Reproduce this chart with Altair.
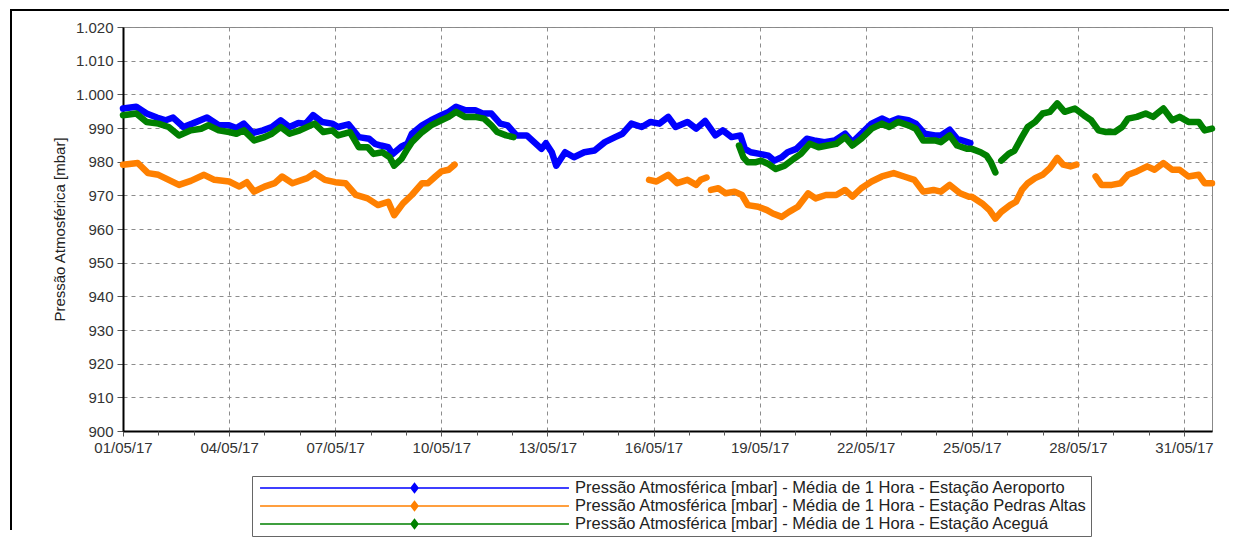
import altair as alt
import pandas as pd

START = "2017-05-01T00:00:00"

SERIES = [
    "Pressão Atmosférica [mbar] - Média de 1 Hora - Estação Aeroporto",
    "Pressão Atmosférica [mbar] - Média de 1 Hora - Estação Pedras Altas",
    "Pressão Atmosférica [mbar] - Média de 1 Hora - Estação Aceguá",
]
COLORS = ["#0000ff", "#ff8000", "#008000"]

# hours since 01/05/17 00:00 ; None marks a gap in the record
AERO_HOURS = [0, 9, 16, 23, 29, 34, 41, 47, 57, 65, 72, 77, 82, 88, 95, 101, 107, 113, 119, 124,
              129, 135, 142, 146, 153, 160, 167, 171, 175, 180, 183, 189, 193, 196, 203, 209, 216,
              221, 226, 232, 239, 244, 250, 256, 261, 267, 274, 279, 284, 287, 291, 294, 300, 306,
              313, 320, 327, 334, 339, 345, 352, 358, 364, 370, 375, 383, 389, 395, 402, 407, 413,
              419, 422, 426, 432, 438, 442, 447, 451, 457, 464, 469, 476, 483, 490, 495, 501, 508,
              515, 520, 526, 533, 538, 544, 551, 555, 561, 566, 573, 575]
AERO_VALUES = [995.8, 996.3, 994.3, 993.1, 992.3, 993.1, 990.3, 991.3, 993.1, 990.8, 990.8, 990.0,
               991.3, 988.5, 989.3, 990.3, 992.3, 990.3, 991.5, 991.3, 993.8, 991.8, 991.3, 990.3,
               991.1, 987.3, 986.8, 985.3, 984.8, 984.3, 982.3, 984.5, 985.3, 988.3, 990.8, 992.3,
               993.8, 994.8, 996.3, 995.3, 995.3, 994.3, 994.3, 991.3, 990.8, 987.8, 987.8, 985.8,
               983.8, 985.5, 982.8, 978.8, 982.8, 981.3, 982.8, 983.3, 985.8, 987.3, 988.3, 991.3,
               990.3, 991.8, 991.3, 993.3, 990.3, 991.8, 989.8, 992.1, 987.8, 989.3, 987.3, 987.8,
               983.8, 982.8, 982.3, 981.8, 980.3, 981.3, 982.8, 983.8, 986.8, 986.3, 985.8, 986.3,
               988.3, 985.8, 988.3, 991.3, 992.8, 991.8, 992.8, 992.3, 991.3, 988.3, 987.8, 987.8,
               989.5, 986.8, 985.8, 985.5]

PEDRAS_HOURS = [0, 10, 17, 24, 31, 38, 46, 55, 62, 72, 79, 84, 89, 96, 103, 108, 115, 125, 130, 137,
                144, 151, 158, 166, 173, 180, 184, 190, 196, 203, 207, 212, 216, 221, 225, 300,
                357, 362, 370, 376, 383, 389, 392, 396, 398,
                399, 404, 409, 415, 420, 424, 431, 437, 441, 447, 452, 458, 465, 470, 477, 484, 490,
                495, 501, 508, 515, 523, 530, 537, 543, 550, 555, 561, 568, 574, 576, 583, 588, 592,
                596, 602, 606, 610, 614, 619, 624, 629, 634, 638, 643, 647, 655,
                660, 664, 671, 677, 682, 688, 695, 700, 706, 712, 717, 723, 730, 734, 739]
PEDRAS_VALUES = [979.1, 979.6, 976.6, 976.1, 974.6, 973.1, 974.3, 976.1, 974.6, 974.1, 972.6, 973.9,
                 971.1, 972.6, 973.6, 975.6, 973.6, 975.1, 976.6, 974.6, 973.9, 973.6, 970.1, 969.1,
                 967.1, 968.1, 964.1, 967.6, 970.1, 973.6, 973.6, 975.6, 977.1, 977.6, 979.1, None,
                 974.6, 974.1, 976.1, 973.6, 974.6, 973.1, 974.6, 975.3, None,
                 971.6, 972.1, 970.6, 971.1, 970.1, 967.1, 966.6, 965.6, 964.6, 963.6, 965.1, 966.6,
                 970.6, 969.1, 970.1, 970.1, 971.6, 969.6, 972.1, 974.1, 975.6, 976.6, 975.6, 974.6,
                 971.1, 971.6, 971.1, 973.1, 970.6, 969.6, 969.6, 967.6, 965.6, 963.1, 965.1, 967.1,
                 968.1, 971.6, 973.6, 975.1, 976.1, 978.1, 981.1, 979.1, 978.6, 979.1, None,
                 975.6, 973.1, 973.1, 973.6, 976.1, 977.1, 978.6, 977.6, 979.6, 977.6, 977.6, 975.6,
                 976.1, 973.6, 973.6]

ACEGUA_HOURS = [0, 9, 16, 24, 31, 38, 46, 53, 58, 65, 72, 77, 82, 89, 96, 101, 107, 113, 120, 130,
                136, 142, 146, 154, 160, 166, 170, 176, 181, 184, 189, 193, 196, 203, 209, 216, 221,
                226, 232, 239, 245, 250, 254, 260, 265, 340,
                418, 421, 424, 429, 433, 438, 443, 449, 455, 460, 466, 472, 478, 484, 490, 495, 501,
                508, 515, 520, 526, 533, 538, 543, 551, 555, 561, 566, 573, 576, 582, 586, 589, 592,
                594,
                596, 601, 605, 610, 614, 619, 624, 629, 634, 639, 646, 652, 657, 662, 667, 673, 678,
                682, 688, 694, 699, 706, 712, 717, 723, 730, 734, 739]
ACEGUA_VALUES = [993.8, 994.3, 991.8, 991.3, 990.3, 987.8, 989.3, 989.8, 990.8, 989.3, 988.8, 988.3,
                 989.3, 986.3, 987.3, 988.3, 990.3, 988.3, 989.3, 991.3, 988.8, 989.3, 987.8, 988.8,
                 984.3, 984.3, 982.3, 982.8, 981.3, 978.8, 980.8, 983.8, 985.8, 988.8, 990.8, 992.3,
                 993.3, 994.8, 993.3, 993.3, 992.8, 990.8, 988.8, 987.8, 987.3, None,
                 984.8, 981.3, 979.8, 979.8, 980.3, 979.3, 977.8, 978.8, 980.8, 982.3, 985.3, 984.3,
                 984.8, 985.3, 987.3, 984.8, 986.8, 989.8, 991.3, 990.3, 991.8, 990.8, 989.8, 986.3,
                 986.3, 985.8, 987.8, 984.8, 983.8, 983.8, 982.8, 981.8, 979.8, 976.8, None,
                 980.3, 982.3, 983.3, 987.3, 990.3, 991.8, 994.3, 994.8, 997.3, 994.8, 995.8, 993.8,
                 992.3, 989.3, 988.8, 988.8, 990.3, 992.8, 993.3, 994.3, 993.3, 995.8, 992.3, 993.3,
                 991.8, 991.8, 989.3, 989.8]

Y_TICKS = list(range(900, 1021, 10))
Y_DOMAIN = [900, 1020]
X_LABEL_DAYS = [1, 4, 7, 10, 13, 16, 19, 22, 25, 28, 31]
X_MINOR_DAYS = list(range(1, 32))
X_END = {"date": 31, "hours": 19}

rows = []
for name, hours, values in zip(SERIES, [AERO_HOURS, PEDRAS_HOURS, ACEGUA_HOURS],
                               [AERO_VALUES, PEDRAS_VALUES, ACEGUA_VALUES]):
    seg = 0
    for h, v in zip(hours, values):
        if v is None:
            seg += 1
            continue
        t = pd.Timestamp(START) + pd.Timedelta(hours=h)
        rows.append({"series": name, "seg": f"{name}|{seg}",
                     "time": t.strftime("%Y-%m-%dT%H:%M:%S"), "value": v})
df = pd.DataFrame(rows)

x_scale = alt.Scale(domain=[alt.DateTime(year=2017, month=5, date=1),
                            alt.DateTime(year=2017, month=5, date=X_END["date"], hours=X_END["hours"])])
major_dates = [alt.DateTime(year=2017, month=5, date=d) for d in X_LABEL_DAYS]
minor_dates = [alt.DateTime(year=2017, month=5, date=d) for d in X_MINOR_DAYS]

FONT = "Liberation Sans"
LEGEND_PATH = ("M-0.973,0H0.973"
               "M0,-0.028L0.022,0L0,0.028L-0.022,0Z"
               "M0,-0.014L0.011,0L0,0.014L-0.011,0Z"
               "M0,-0.028V0.028")

lines = alt.Chart(df).mark_line(strokeWidth=6.5, strokeJoin="round", strokeCap="round").encode(
    x=alt.X("time:T", scale=x_scale,
            axis=alt.Axis(values=major_dates, format="%d/%m/%y", title=None, orient="bottom",
                          grid=True, gridDash=[4, 4], gridColor="#8c8c8c", gridWidth=1,
                          tickSize=5, tickColor="#555", labelFlush=False, labelPadding=4,
                          labelFontSize=15, labelFont=FONT, labelColor="#333",
                          domainColor="#000", domainWidth=2)),
    y=alt.Y("value:Q", scale=alt.Scale(domain=Y_DOMAIN, nice=False, zero=False),
            axis=alt.Axis(values=Y_TICKS, title="Pressão Atmosférica [mbar]",
                          labelExpr="replace(format(datum.value, ','), ',', '.')",
                          grid=True, gridDash=[4, 4], gridColor="#8c8c8c", gridWidth=1,
                          tickSize=6, tickColor="#555", labelPadding=4,
                          labelFontSize=15, labelFont=FONT, labelColor="#333",
                          titleFontSize=15, titleFont=FONT, titleFontWeight="normal",
                          titleColor="#222", titlePadding=8,
                          domainColor="#000", domainWidth=2)),
    color=alt.Color("series:N", scale=alt.Scale(domain=SERIES, range=COLORS),
                    legend=alt.Legend(title=None, orient="none", legendX=129, legendY=449,
                                      direction="vertical", symbolType=LEGEND_PATH,
                                      symbolSize=100806, symbolStrokeWidth=1.5,
                                      clipHeight=18, rowPadding=0, padding=3,
                                      labelFontSize=16.5, labelFont=FONT, labelColor="#222",
                                      labelLimit=1000, labelOffset=1,
                                      labelExpr="datum.label + '   '",
                                      strokeColor="#666", fillColor="white")),
    detail="seg:N",
)

minor = alt.Chart(df).mark_line(opacity=0).encode(
    x=alt.X("time:T", scale=x_scale,
            axis=alt.Axis(values=minor_dates, labels=False, title=None, orient="bottom",
                          grid=False, domain=False, tickSize=4, tickColor="#555")),
    detail="seg:N",
)

frame_df = pd.DataFrame({"k": [0]})
frame_left = alt.Chart(frame_df).mark_rule(color="#000", strokeWidth=2).encode(
    x=alt.value(-112), y=alt.value(-17), y2=alt.value(503))
frame_top = alt.Chart(frame_df).mark_rule(color="#000", strokeWidth=2).encode(
    x=alt.value(-113), x2=alt.value(1106), y=alt.value(-17))

chart = alt.layer(lines, minor, frame_left, frame_top).resolve_axis(x="independent").properties(
    width=1089, height=404,
    padding={"left": 1, "top": 1, "right": 0, "bottom": 0},
    background="white",
).configure_view(stroke="#888", strokeWidth=1)

chart.save("out.html", embed_options={"renderer": "svg", "actions": False})
